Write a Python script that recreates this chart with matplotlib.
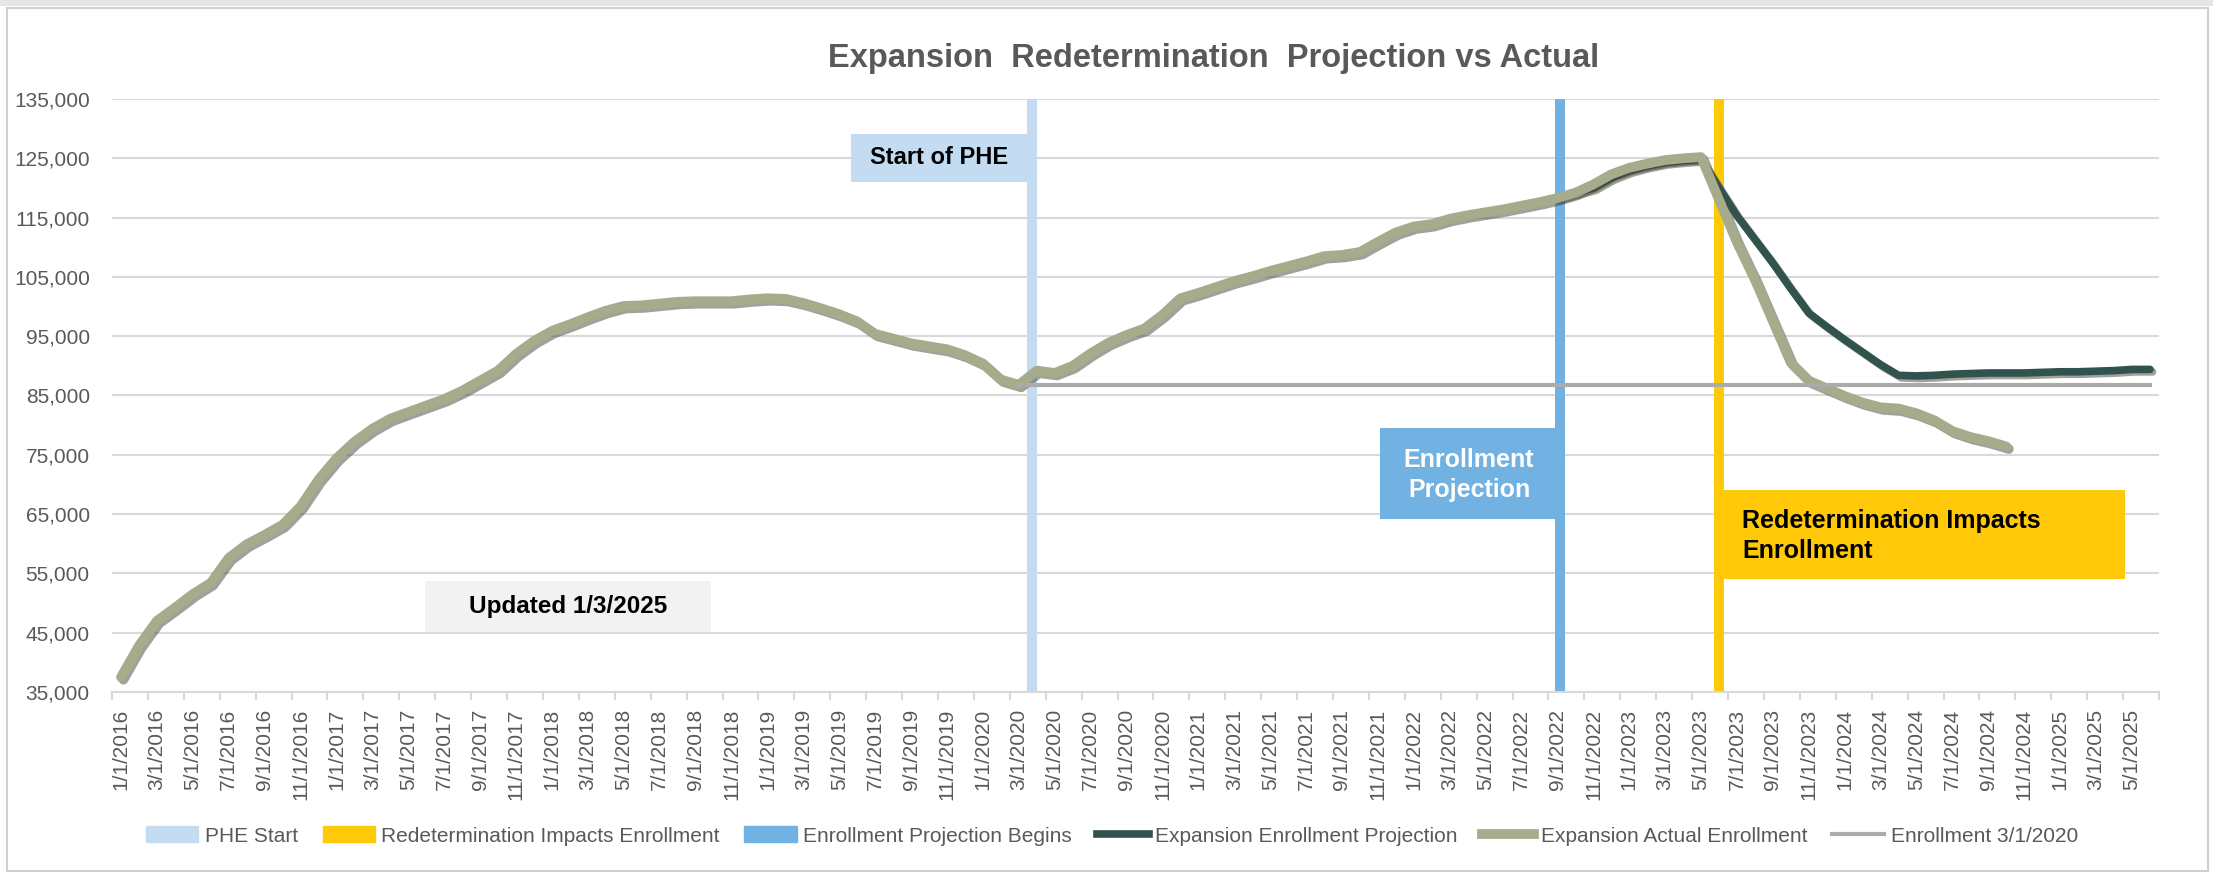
import numpy as np
import pandas as pd
import matplotlib
matplotlib.use("Agg")
import matplotlib.pyplot as plt
import matplotlib.patheffects as pe
from matplotlib.patches import Rectangle
from matplotlib.lines import Line2D
from matplotlib.patches import Patch

plt.rcParams['font.family'] = ['Liberation Sans', 'DejaVu Sans']

# ---- data (monthly, thousands of enrollees) ----
months = pd.date_range('2016-01-01', '2025-07-01', freq='MS')

# Expansion Actual Enrollment, 1/2016 .. 10/2024
actual = np.array([
    37.5, 42.8, 47.0, 49.2, 51.5, 53.4, 57.6, 59.9, 61.5, 63.2, 66.3, 70.8,
    74.4, 77.2, 79.4, 81.1, 82.2, 83.3, 84.4, 85.8, 87.5, 89.2, 92.0, 94.2,
    95.9, 97.0, 98.2, 99.3, 100.1, 100.2, 100.5, 100.8, 100.9, 100.9, 100.9, 101.2,
    101.4, 101.3, 100.6, 99.7, 98.7, 97.5, 95.4, 94.6, 93.8, 93.3, 92.8, 91.8,
    90.4, 87.7, 86.8, 89.2, 88.8, 90.0, 92.1, 93.9, 95.2, 96.3, 98.6, 101.4,
    102.3, 103.3, 104.3, 105.1, 106.0, 106.8, 107.6, 108.5, 108.7, 109.2, 110.9, 112.5,
    113.5, 113.9, 114.8, 115.4, 115.9, 116.4, 117.0, 117.6, 118.3, 119.2, 120.6, 122.3,
    123.4, 124.1, 124.7, 125.0, 125.2, 118.0, 110.8, 104.5, 97.5, 90.5, 87.5, 86.2,
    84.9, 83.8, 83.0, 82.8, 82.0, 80.8, 79.0, 78.0, 77.3, 76.4,
]) * 1000

# Expansion Enrollment Projection, 9/2022 .. 6/2025
proj_start = 80
projection = np.array([
    118.3, 119.2, 120.0, 121.7, 122.9, 123.7, 124.3, 124.6, 124.8, 120.0,
    115.3, 111.3, 107.3, 103.0, 98.9, 96.6, 94.4, 92.3, 90.2, 88.4,
    88.3, 88.4, 88.6, 88.7, 88.8, 88.8, 88.8, 88.9, 89.0, 89.0,
    89.1, 89.2, 89.4, 89.4,
]) * 1000

# Enrollment 3/1/2020 held flat to the end
base_start = 50
baseline = np.full(len(months) - 1 - base_start, actual[base_start])

# event columns: name, month index, offset inside the column cluster
events = [('PHE Start', 51, -0.25),
          ('Redetermination Impacts Enrollment', 89, 0.0),
          ('Enrollment Projection Begins', 80, 0.15)]
event_colors = ['#C3DCF2', '#FFC90A', '#72B2E3']

tick_idx = np.arange(0, len(months) - 1, 2)
tick_labels = [f'{d.month}/1/{d.year}' for d in months[tick_idx]]

# ---- layout ----
W, H = 2213, 873
fig = plt.figure(figsize=(W / 100, H / 100), dpi=100)


def fx(px):
    return px / W


def fy(py):
    return 1 - py / H


ax = fig.add_axes([fx(112), fy(692), (2159 - 112) / W, (692 - 99) / H])
grid_c = '#D9D9D9'
txt_c = '#595959'

# event columns
for (name, idx, off), col in zip(events, event_colors):
    ax.bar(idx + 0.5 + off, 135000 - 35000, bottom=35000, width=0.53,
           color=col, zorder=2)

x_all = np.arange(len(months)) + 0.5
shadow = [pe.SimpleLineShadow(offset=(1.8, -1.8), shadow_color='#45453a',
                              alpha=0.5), pe.Normal()]

ax.plot(x_all[proj_start:proj_start + len(projection)], projection,
        color='#30534E', lw=5.5, solid_capstyle='round',
        solid_joinstyle='round', path_effects=shadow, zorder=3)
ax.plot(x_all[:len(actual)], actual, color='#A6AB8C', lw=7,
        solid_capstyle='round', solid_joinstyle='round',
        path_effects=shadow, zorder=4)
ax.plot(x_all[base_start:base_start + len(baseline)], baseline,
        color='#ABABAB', lw=3, zorder=5)

ax.set_xlim(0, len(months) - 1)
ax.set_ylim(35000, 135000)
ax.set_yticks(np.arange(35000, 135001, 10000))
ax.set_yticklabels([f'{v:,}' for v in range(35000, 135001, 10000)])
ax.yaxis.grid(True, color=grid_c, lw=1.5, zorder=0)
ax.set_axisbelow(True)
for s in ['top', 'left', 'right']:
    ax.spines[s].set_visible(False)
ax.spines['bottom'].set_color(grid_c)
ax.spines['bottom'].set_linewidth(1.5)

ax.set_xticks(np.arange(0, len(months), 2))
ax.set_xticklabels([])
ax.set_xticks(tick_idx + 0.5, minor=True)
ax.set_xticklabels(tick_labels, minor=True, rotation=90)
ax.tick_params(axis='x', which='major', length=6, width=1.5, color=grid_c)
ax.tick_params(axis='x', which='minor', length=0, pad=12, labelsize=15,
               labelcolor=txt_c)
ax.tick_params(axis='y', length=0, pad=16, labelsize=15, labelcolor=txt_c)

# title
fig.text(fx(1214), fy(59), 'Expansion  Redetermination  Projection vs Actual',
         ha='center', va='center', fontsize=23.5, fontweight='bold',
         color=txt_c)


# annotation boxes
def box(x0, y0, x1, y1, color):
    fig.add_artist(Rectangle((fx(x0), fy(y1)), (x1 - x0) / W, (y1 - y0) / H,
                             transform=fig.transFigure, facecolor=color,
                             edgecolor='none', zorder=6))


box(851, 134, 1028, 182, '#C3DCF2')
fig.text(fx(939), fy(158), 'Start of PHE', ha='center', va='center',
         fontsize=17, fontweight='bold', color='black', zorder=7)

box(425, 581, 711, 632, '#F2F2F2')
fig.text(fx(568), fy(607), 'Updated 1/3/2025', ha='center', va='center',
         fontsize=17.5, fontweight='bold', color='black', zorder=7)

box(1380, 428, 1556, 519, '#72B2E3')
fig.text(fx(1469), fy(475), 'Enrollment\nProjection', ha='center',
         va='center', fontsize=18, fontweight='bold', color='white',
         linespacing=1.35, zorder=7)

box(1714, 490, 2125, 579, '#FFC90A')
fig.text(fx(1742), fy(536), 'Redetermination Impacts\nEnrollment',
         ha='left', va='center', fontsize=18, fontweight='bold',
         color='black', linespacing=1.35, zorder=7)

# legend
handles = [Patch(color=event_colors[0], label=events[0][0]),
           Patch(color=event_colors[1], label=events[1][0]),
           Patch(color=event_colors[2], label=events[2][0]),
           Line2D([], [], color='#30534E', lw=5.5,
                  label='Expansion Enrollment Projection'),
           Line2D([], [], color='#A6AB8C', lw=7,
                  label='Expansion Actual Enrollment'),
           Line2D([], [], color='#ABABAB', lw=3, label='Enrollment 3/1/2020')]
fig.legend(handles=handles, loc='center', ncol=6, frameon=False,
           bbox_to_anchor=(fx(1112), fy(836)), fontsize=15,
           handlelength=2.5, handleheight=0.8, handletextpad=0.3,
           columnspacing=1.2, labelcolor=txt_c)

# chart border
fig.add_artist(Rectangle((fx(7), fy(871)), (2208 - 7) / W, (871 - 8) / H,
                         transform=fig.transFigure, fill=False,
                         edgecolor='#D0D0D0', lw=1.5))
fig.add_artist(Rectangle((0, fy(6)), 1, 6 / H, transform=fig.transFigure,
                         facecolor='#E6E6E6', edgecolor='none'))

fig.savefig('out.png', dpi=100)
